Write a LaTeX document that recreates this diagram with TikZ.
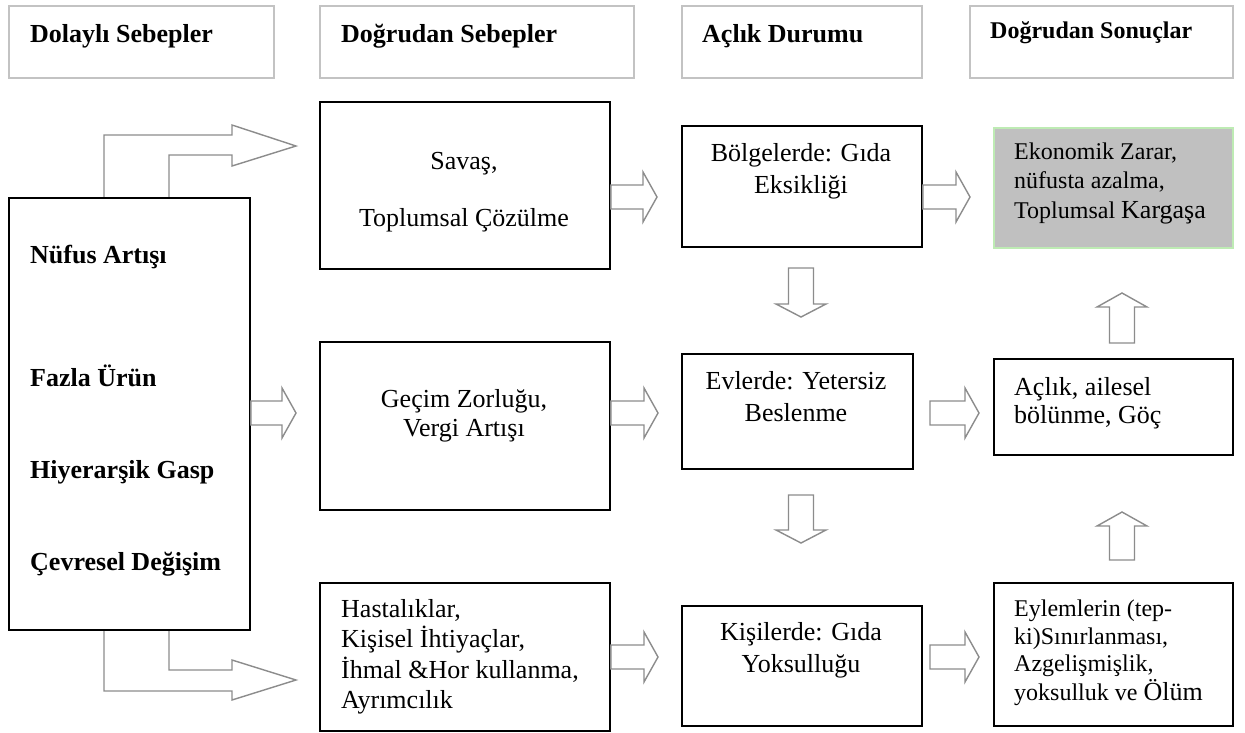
\documentclass[tikz,border=0pt]{standalone}
\usepackage{fontspec}
\setmainfont{Liberation Serif}
\usetikzlibrary{calc}
\definecolor{arrgray}{RGB}{140,140,140}
\definecolor{hdrgray}{RGB}{195,195,195}
\definecolor{fillgray}{RGB}{192,192,192}
\definecolor{lgreen}{RGB}{190,235,180}
\newcommand\harr[2]{%
 \draw[blk] let \p1=(#1), \p2=(#2) in
 (\x1,\y2+12pt) -- (\x2-14pt,\y2+12pt) -- (\x2-14pt,\y2+25pt) -- (\x2,\y2) --
 (\x2-14pt,\y2-25pt) -- (\x2-14pt,\y2-12pt) -- (\x1,\y2-12pt) -- cycle;}
\newcommand\varr[3]{%
 \draw[blk] let \p1=(#1), \p2=(#2) in
 (\x2+12.5pt,\y1) -- (\x2+12.5pt,\y2+#3) -- (\x2+25pt,\y2+#3) -- (\x2,\y2) --
 (\x2-25pt,\y2+#3) -- (\x2-12.5pt,\y2+#3) -- (\x2-12.5pt,\y1) -- cycle;}
\begin{document}
\begin{tikzpicture}[x=1pt,y=-1pt,
 hdr/.style={draw=hdrgray, line width=2pt, inner sep=0pt, anchor=north west},
 box/.style={draw=black, line width=1.8pt, inner sep=0pt, anchor=north west, fill=white},
 blk/.style={draw=arrgray, line width=1.4pt, fill=white, line join=miter},
 ltxt/.style={anchor=base west, inner sep=0pt, font=\fontsize{26}{30}\selectfont},
 lstxt/.style={anchor=base west, inner sep=0pt, font=\fontsize{24}{28}\selectfont},
 ctxt/.style={anchor=base, inner sep=0pt, font=\fontsize{26}{30}\selectfont},
 btxt/.style={anchor=base west, inner sep=0pt, font=\fontsize{26}{30}\selectfont\bfseries},
 bstxt/.style={anchor=base west, inner sep=0pt, font=\fontsize{24}{28}\selectfont\bfseries}
]
\useasboundingbox (0,0) rectangle (1245,732);
\fill[white] (0,0) rectangle (1245,732);

% header boxes
\node[hdr, minimum width=265pt, minimum height=72pt] (H1) at (8,5) {};
\node[hdr, minimum width=314pt, minimum height=72pt] (H2) at (319,5) {};
\node[hdr, minimum width=240pt, minimum height=72pt] (H3) at (681,5) {};
\node[hdr, minimum width=263pt, minimum height=72pt] (H4) at (969,5) {};
\node[btxt] (h1t) at (30,42) {Dolaylı Sebepler};
\node[btxt] (h2t) at (341,42) {Doğrudan Sebepler};
\node[btxt] (h3t) at (702,42) {Açlık Durumu};
\node[bstxt] (h4t) at (990,38) {Doğrudan Sonuçlar};

% bent arrows from the left box
\coordinate (tipTop) at (296,146);
\coordinate (tipBot) at (296,680);
\draw[blk] (104,197) -- (104,135) -- (232,135) -- (232,125) -- (tipTop) -- (232,166) -- (232,155) -- (169,155) -- (169,197);
\draw[blk] (104,629) -- (104,691) -- (232,691) -- (232,700) -- (tipBot) -- (232,660) -- (232,670) -- (169,670) -- (169,629);

% boxes
\node[box, minimum width=241pt, minimum height=432pt] (L) at (8,197) {};
\node[box, minimum width=290pt, minimum height=167pt] (A1) at (319,101) {};
\node[box, minimum width=290pt, minimum height=168pt] (A2) at (319,341) {};
\node[box, minimum width=290pt, minimum height=148pt] (A3) at (319,582) {};
\node[box, minimum width=240pt, minimum height=121pt] (B1) at (681,125) {};
\node[box, minimum width=231pt, minimum height=115pt] (B2) at (681,353) {};
\node[box, minimum width=240pt, minimum height=120pt] (B3) at (681,605) {};
\node[box, draw=lgreen, fill=fillgray, minimum width=239pt, minimum height=120pt] (C1) at (993,127) {};
\node[box, minimum width=239pt, minimum height=96pt] (C2) at (993,358) {};
\node[box, minimum width=239pt, minimum height=143pt] (C3) at (993,582) {};

% left box texts
\node[btxt] (l1) at (30,263) {Nüfus Artışı};
\node[btxt] (l2) at (30,386) {Fazla Ürün};
\node[btxt] (l3) at (30,478) {Hiyerarşik Gasp};
\node[btxt] (l4) at (30,570) {Çevresel Değişim};

% column A texts
\node[ctxt] (a11) at (464,169) {Savaş,};
\node[ctxt] (a12) at (464,226) {Toplumsal Çözülme};
\node[ctxt] (a21) at (464,407) {Geçim Zorluğu,};
\node[ctxt] (a22) at (464,436) {Vergi Artışı};
\node[ltxt] (a31) at (341,617) {Hastalıklar,};
\node[ltxt] (a32) at (341,647) {Kişisel İhtiyaçlar,};
\node[ltxt] (a33) at (341,678) {İhmal \&Hor kullanma,};
\node[ltxt] (a34) at (341,708) {Ayrımcılık};

% column B texts
\node[ctxt] (b11) at (801,161) {Bölgelerde: Gıda};
\node[ctxt] (b12) at (801,193) {Eksikliği};
\node[ctxt] (b21) at (796,389) {Evlerde: Yetersiz};
\node[ctxt] (b22) at (796,421) {Beslenme};
\node[ctxt] (b31) at (801,640) {Kişilerde: Gıda};
\node[ctxt] (b32) at (801,672) {Yoksulluğu};

% column C texts
\node[lstxt] (c11) at (1014,159) {Ekonomik Zarar,};
\node[lstxt] (c12) at (1014,188) {nüfusta azalma,};
\node[lstxt] (c13) at (1014,218) {Toplumsal {\fontsize{26}{30}\selectfont Kargaşa}};
\node[ltxt] (c21) at (1014,395) {Açlık, ailesel};
\node[ltxt] (c22) at (1014,423) {bölünme, Göç};
\node[lstxt] (c31) at (1014,616) {Eylemlerin (tep-};
\node[lstxt] (c32) at (1014,644) {ki)Sınırlanması,};
\node[lstxt] (c33) at (1014,671) {Azgelişmişlik,};
\node[lstxt] (c34) at (1014,700) {yoksulluk ve {\fontsize{26}{30}\selectfont Ölüm}};

% horizontal block arrows
\coordinate (tA1B1) at (657,197);
\coordinate (tB1C1) at (970,197);
\coordinate (tLA2) at (296,413);
\coordinate (tA2B2) at (658,413);
\coordinate (sB2C2) at (930,413);
\coordinate (tB2C2) at (979,413);
\coordinate (tA3B3) at (658,657);
\coordinate (sB3C3) at (930,657);
\coordinate (tB3C3) at (979,657);
\harr{A1.east}{tA1B1}
\harr{B1.east}{tB1C1}
\harr{L.east}{tLA2}
\harr{A2.east}{tA2B2}
\harr{sB2C2}{tB2C2}
\harr{A3.east}{tA3B3}
\harr{sB3C3}{tB3C3}

% vertical block arrows
\coordinate (sB1B2) at (801,268);
\coordinate (tB1B2) at (801,317);
\coordinate (sB2B3) at (801,495);
\coordinate (tB2B3) at (801,543);
\coordinate (sC2C1) at (1122,343);
\coordinate (tC2C1) at (1122,293);
\coordinate (sC3C2) at (1122,560);
\coordinate (tC3C2) at (1122,512);
\varr{sB1B2}{tB1B2}{13pt}
\varr{sB2B3}{tB2B3}{13pt}
\varr{sC2C1}{tC2C1}{-14pt}
\varr{sC3C2}{tC3C2}{-14pt}
\end{tikzpicture}
\end{document}
